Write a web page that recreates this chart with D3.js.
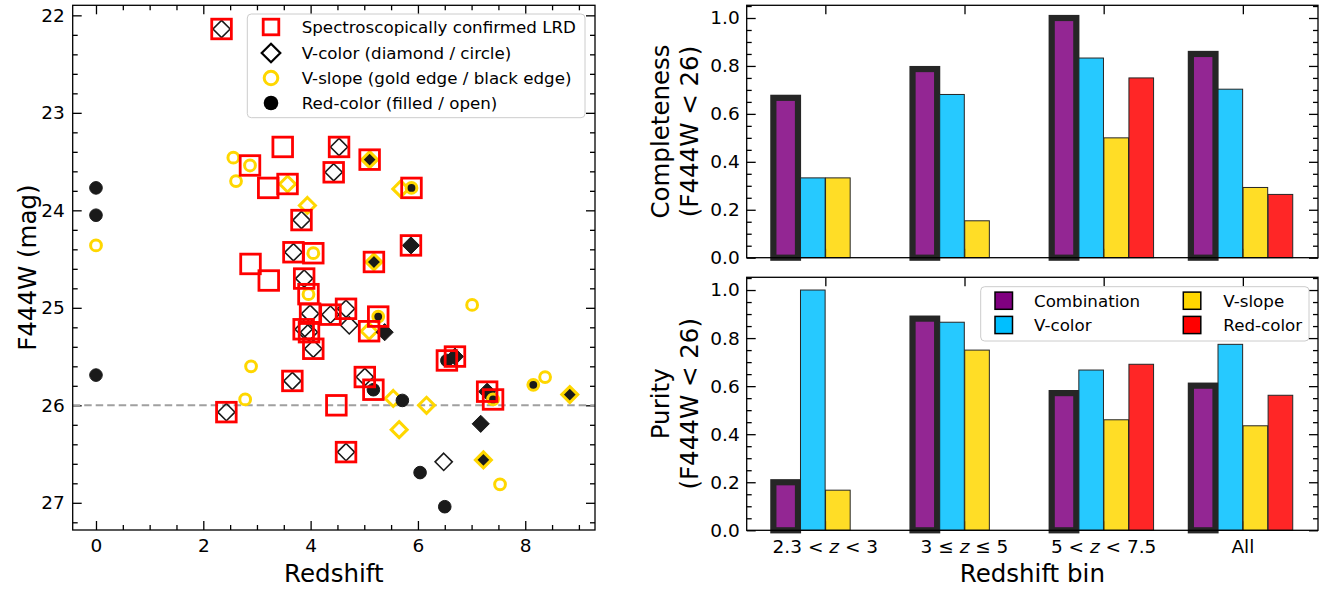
<!DOCTYPE html>
<html>
<head>
<meta charset="utf-8">
<script src="https://cdn.jsdelivr.net/npm/d3@7"></script>
<style>
  body { margin: 0; background: #fff; }
  svg { display: block; }
  text { font-family: "DejaVu Sans", sans-serif; }
</style>
</head>
<body>
<svg id="fig" width="1332" height="589"></svg>
<script>
// ---- Scatter sample: redshift, F444W magnitude and selection flags ----
const zs   = [2.34, 0.00, 0.00, 0.00, 0.00, 2.56, 2.87, 2.61, 3.21, 3.48,
              3.57, 3.94, 3.83, 3.68, 4.05, 2.88, 3.22, 3.88, 4.53, 5.10,
              4.43, 5.68, 5.88, 5.87, 5.18, 7.01, 3.96, 3.99, 4.66, 4.37,
              3.87, 3.97, 4.05, 4.72, 5.09, 5.26, 5.38, 6.54, 6.69, 5.01,
              5.17, 5.54, 5.71, 6.16, 5.65, 4.48, 4.66, 7.29, 7.40, 7.17,
              6.48, 7.22, 6.04, 6.50, 7.53, 8.15, 8.37, 8.83, 2.89, 2.78,
              2.43, 3.66];
const mags = [22.14, 23.77, 24.05, 24.36, 25.69, 23.46, 23.54, 23.70, 23.77, 23.35,
              23.73, 23.95, 24.10, 24.43, 24.44, 24.55, 24.72, 24.70, 23.35, 23.48,
              23.61, 23.78, 23.77, 24.36, 24.53, 24.97, 24.86, 25.06, 25.01, 25.07,
              25.22, 25.25, 25.42, 25.18, 25.24, 25.09, 25.25, 25.54, 25.50, 25.71,
              25.84, 25.93, 25.95, 26.00, 26.25, 26.00, 26.48, 25.86, 25.94, 26.19,
              26.58, 26.56, 26.69, 27.04, 26.81, 25.79, 25.71, 25.89, 25.60, 25.94,
              26.07, 25.75];
const vColor   = [1,0,0,0,0,0,0,0,0,0, 1,1,1,1,0,0,0,1,1,1, 1,1,0,1,1,0,0,1,1,1,
                  1,1,1,1,1,0,1,0,1,1, 0,1,0,1,1,0,1,1,0,1, 1,1,0,0,0,0,0,1,0,0, 1,1];
const vSlope   = [0,0,0,1,0,1,1,1,0,0, 1,1,0,0,1,0,0,0,0,1, 0,1,1,0,1,1,1,0,0,0,
                  0,0,0,0,1,1,0,0,0,0, 0,1,0,1,1,0,0,0,1,0, 0,1,0,0,1,1,1,1,1,1, 0,0];
const redColor = [0,1,1,0,1,0,0,0,0,0, 0,0,0,0,0,0,0,0,0,1, 0,0,1,1,1,0,0,0,0,0,
                  0,0,0,0,0,1,1,1,1,0, 1,0,1,0,0,0,0,1,1,1, 0,1,1,1,0,1,0,1,0,0, 0,0];
const specLRD  = [1,0,0,0,0,0,1,0,1,1, 1,0,1,1,1,1,1,1,1,1, 1,0,1,1,1,0,1,1,1,1,
                  1,1,1,0,1,1,0,1,1,1, 1,0,0,0,0,1,1,1,1,0, 0,0,0,0,0,0,0,0,0,0, 1,1];
const magLimit = 26;

// ---- Selection performance per redshift bin ----
const binLabels = [["2.3 < ", "z", " < 3"], ["3 ≤ ", "z", " ≤ 5"], ["5 < ", "z", " < 7.5"], ["All"]];
const methodNames = ["Combination", "V-color", "V-slope", "Red-color"];
const compCombination = [0.667, 0.787, 1.000, 0.850];
const compVColor      = [0.333, 0.681, 0.833, 0.703];
const compVSlope      = [0.333, 0.154, 0.500, 0.293];
const compRedColor    = [0.000, 0.000, 0.750, 0.264];
const purCombination  = [0.200, 0.881, 0.571, 0.602];
const purVColor       = [1.000, 0.866, 0.667, 0.774];
const purVSlope       = [0.167, 0.750, 0.460, 0.435];
const purRedColor     = [0.000, 0.000, 0.691, 0.562];

const xTicksL = [0, 2, 4, 6, 8];
const yTicksL = [22, 23, 24, 25, 26, 27];
const yTicksR = [0, 0.2, 0.4, 0.6, 0.8, 1.0];

const methodColors = ["#800080", "#00bfff", "#ffd700", "#ff0000"];
const INK = "#1a1a1a";
const GOLD = "#ffd700";
const EDGE = "#262626";

const svg = d3.select("#fig");

// generic inward-tick axis
function axis(g, maker, scale, vals, len, fmt, pad, tr, fs) {
  const a = maker(scale).tickValues(vals).tickSize(-len).tickPadding(pad).tickFormat(fmt);
  const s = g.append("g").attr("transform", tr).call(a);
  s.select(".domain").remove();
  s.selectAll("line").attr("stroke", "#000").attr("stroke-width", 1.3);
  s.selectAll("text").attr("fill", "#000").attr("font-size", fs || 18.5)
    .attr("font-family", "DejaVu Sans, sans-serif");
  return s;
}
const noLab = () => "";
function minorVals(a, b, step) {
  const out = [];
  const n = Math.round((b - a) / step);
  for (let i = 0; i <= n; i++) out.push(+(a + i * step).toFixed(6));
  return out;
}

// ================= Left panel: magnitude vs redshift =================
const L = { x0: 72.7, x1: 595, y0: 5.3, y1: 530 };
const xL = d3.scaleLinear().domain([-0.434, 9.30]).range([L.x0, L.x1]);
const yL = d3.scaleLinear().domain([21.897, 27.279]).range([L.y0, L.y1]);
const gL = svg.append("g");

const xMinL = minorVals(0, 9, 0.5).filter(v => !xTicksL.includes(v));
const yMinL = minorVals(22, 27.2, 0.2).filter(v => !yTicksL.some(t => Math.abs(t - v) < 1e-6));

axis(gL, d3.axisBottom, xL, xTicksL, 9, d3.format("d"), 9, `translate(0,${L.y1})`);
axis(gL, d3.axisBottom, xL, xMinL, 5, noLab, 9, `translate(0,${L.y1})`);
axis(gL, d3.axisTop, xL, xTicksL, 9, noLab, 9, `translate(0,${L.y0})`);
axis(gL, d3.axisTop, xL, xMinL, 5, noLab, 9, `translate(0,${L.y0})`);
axis(gL, d3.axisLeft, yL, yTicksL, 9, d3.format("d"), 8, `translate(${L.x0},0)`);
axis(gL, d3.axisLeft, yL, yMinL, 5, noLab, 8, `translate(${L.x0},0)`);
axis(gL, d3.axisRight, yL, yTicksL, 9, noLab, 8, `translate(${L.x1},0)`);
axis(gL, d3.axisRight, yL, yMinL, 5, noLab, 8, `translate(${L.x1},0)`);

// magnitude limit
gL.append("line")
  .attr("x1", L.x0).attr("x2", L.x1)
  .attr("y1", yL(magLimit)).attr("y2", yL(magLimit))
  .attr("stroke", "#a0a0a0").attr("stroke-width", 2).attr("stroke-dasharray", "7.5,4");

function diamondPath(cx, cy, h) {
  return `M${cx},${cy - h}L${cx + h},${cy}L${cx},${cy + h}L${cx - h},${cy}Z`;
}

const pts = zs.map((z, i) => ({
  z, m: mags[i], v: vColor[i], s: vSlope[i], r: redColor[i], spec: specLRD[i]
}));

const mk = gL.append("g");
pts.forEach(p => {
  if (!(p.v || p.s || p.r)) return;
  const cx = xL(p.z), cy = yL(p.m);
  const stroke = p.s ? GOLD : INK;
  const fill = p.r ? INK : "none";
  const sw = p.s ? 3 : (p.r ? 1 : 1.6);
  if (p.v) {
    mk.append("path").attr("d", diamondPath(cx, cy, p.s ? 8 : 8.6))
      .attr("fill", fill).attr("stroke", stroke).attr("stroke-width", sw)
      .attr("stroke-linejoin", "miter");
  } else {
    const r = p.s ? 5.4 : 6.3;
    mk.append("circle").attr("cx", cx).attr("cy", cy).attr("r", r)
      .attr("fill", fill).attr("stroke", stroke).attr("stroke-width", sw);
  }
});
const sq = gL.append("g");
pts.filter(p => p.spec).forEach(p => {
  sq.append("rect")
    .attr("x", xL(p.z) - 9.8).attr("y", yL(p.m) - 9.8)
    .attr("width", 19.6).attr("height", 19.6)
    .attr("fill", "none").attr("stroke", "#ff0000").attr("stroke-width", 2.8);
});

// frame
gL.append("rect").attr("x", L.x0).attr("y", L.y0)
  .attr("width", L.x1 - L.x0).attr("height", L.y1 - L.y0)
  .attr("fill", "none").attr("stroke", "#000").attr("stroke-width", 1.3);

// legend
const lgL = gL.append("g");
lgL.append("rect").attr("x", 247.3).attr("y", 14).attr("width", 337.7).attr("height", 103.7)
  .attr("rx", 4).attr("fill", "#fff").attr("fill-opacity", 0.8)
  .attr("stroke", "#cccccc").attr("stroke-width", 1);
const legRows = [
  { label: "Spectroscopically confirmed LRD", y: 27 },
  { label: "V-color (diamond / circle)", y: 53 },
  { label: "V-slope (gold edge / black edge)", y: 78 },
  { label: "Red-color (filled / open)", y: 103 }
];
const lmx = 271;
lgL.append("rect").attr("x", lmx - 7.8).attr("y", legRows[0].y - 7.8).attr("width", 15.6).attr("height", 15.6)
  .attr("fill", "none").attr("stroke", "#ff0000").attr("stroke-width", 2.8);
lgL.append("path").attr("d", diamondPath(lmx, legRows[1].y, 9.3))
  .attr("fill", "none").attr("stroke", "#000").attr("stroke-width", 2.2);
lgL.append("circle").attr("cx", lmx).attr("cy", legRows[2].y).attr("r", 6.8)
  .attr("fill", "none").attr("stroke", GOLD).attr("stroke-width", 3);
lgL.append("circle").attr("cx", lmx).attr("cy", legRows[3].y).attr("r", 7.3)
  .attr("fill", "#000");
legRows.forEach(r => {
  lgL.append("text").attr("x", 301.7).attr("y", r.y + 6).attr("font-size", 16.7)
    .attr("fill", "#000").text(r.label);
});

// axis labels
gL.append("text").attr("x", (L.x0 + L.x1) / 2).attr("y", 581.7)
  .attr("text-anchor", "middle").attr("font-size", 24.5).text("Redshift");
gL.append("text").attr("transform", `translate(36,${(L.y0 + L.y1) / 2}) rotate(-90)`)
  .attr("text-anchor", "middle").attr("font-size", 24.5).text("F444W (mag)");

// ================= Right panels: completeness and purity =================
const R = { x0: 746.7, x1: 1318 };
const xR = d3.scaleLinear().domain([-0.565, 3.54]).range([R.x0, R.x1]);
const barW = 0.177;
const barOffsets = [-0.285, -0.09, 0.09, 0.27];

function barPanel(top, bottom, series, ylab2, showX) {
  const g = svg.append("g");
  const y = d3.scaleLinear().domain([0, 1.053]).range([bottom, top]);
  const xt = [0, 1, 2, 3];
  const yMin = minorVals(0, 1.05, 0.05).filter(v => !yTicksR.some(t => Math.abs(t - v) < 1e-6));

  axis(g, d3.axisBottom, xR, xt, 9, noLab, 8, `translate(0,${bottom})`);
  axis(g, d3.axisTop, xR, xt, 9, noLab, 8, `translate(0,${top})`);
  axis(g, d3.axisLeft, y, yTicksR, 9, d3.format(".1f"), 7, `translate(${R.x0},0)`);
  axis(g, d3.axisLeft, y, yMin, 5, noLab, 7, `translate(${R.x0},0)`);
  axis(g, d3.axisRight, y, yTicksR, 9, noLab, 7, `translate(${R.x1},0)`);
  axis(g, d3.axisRight, y, yMin, 5, noLab, 7, `translate(${R.x1},0)`);

  series.forEach((vals, j) => {
    const thick = j === 0;
    g.append("g").selectAll("rect").data(vals).join("rect")
      .attr("x", (d, i) => xR(i + barOffsets[j] - barW / 2))
      .attr("width", xR(barW) - xR(0))
      .attr("y", d => y(d))
      .attr("height", d => y(0) - y(d))
      .attr("fill", methodColors[j]).attr("fill-opacity", 0.85)
      .attr("stroke", EDGE)
      .attr("stroke-width", thick ? 6.2 : 1);
  });

  g.append("rect").attr("x", R.x0).attr("y", top)
    .attr("width", R.x1 - R.x0).attr("height", bottom - top)
    .attr("fill", "none").attr("stroke", "#000").attr("stroke-width", 1.3);

  const yc = (top + bottom) / 2;
  g.append("text").attr("transform", `translate(669,${yc}) rotate(-90)`)
    .attr("text-anchor", "middle").attr("font-size", 24.5).text(ylab2[0]);
  g.append("text").attr("transform", `translate(698,${yc}) rotate(-90)`)
    .attr("text-anchor", "middle").attr("font-size", 24.5).text(ylab2[1]);

  if (showX) {
    binLabels.forEach((parts, i) => {
      const t = g.append("text").attr("x", xR(i)).attr("y", bottom + 22.5)
        .attr("text-anchor", "middle").attr("font-size", 18.5).attr("fill", "#000");
      parts.forEach(p => {
        const ts = t.append("tspan").text(p);
        if (p === "z") ts.attr("font-style", "italic");
      });
    });
  }
  return g;
}

barPanel(5.3, 257.7,
  [compCombination, compVColor, compVSlope, compRedColor],
  ["Completeness", "(F444W < 26)"], false);
const gP = barPanel(277.3, 530.3,
  [purCombination, purVColor, purVSlope, purRedColor],
  ["Purity", "(F444W < 26)"], true);

svg.append("text").attr("x", (R.x0 + R.x1) / 2).attr("y", 581.7)
  .attr("text-anchor", "middle").attr("font-size", 24.5).text("Redshift bin");

// legend for methods
const lgR = gP.append("g");
lgR.append("rect").attr("x", 980.7).attr("y", 286.7).attr("width", 328.3).attr("height", 54.3)
  .attr("rx", 4).attr("fill", "#fff").attr("fill-opacity", 0.8)
  .attr("stroke", "#cccccc").attr("stroke-width", 1);
const legPos = [
  { sx: 995, tx: 1034, y: 300.7 },
  { sx: 995, tx: 1034, y: 325 },
  { sx: 1183.3, tx: 1223.3, y: 300.7 },
  { sx: 1183.3, tx: 1223.3, y: 325 }
];
methodNames.forEach((name, j) => {
  const p = legPos[j];
  lgR.append("rect").attr("x", p.sx).attr("y", p.y - 8.6).attr("width", 17.5).attr("height", 17.2)
    .attr("fill", methodColors[j]).attr("stroke", "#000").attr("stroke-width", 1.5);
  lgR.append("text").attr("x", p.tx).attr("y", p.y + 6).attr("font-size", 16.7)
    .attr("fill", "#000").text(name);
});
</script>
</body>
</html>
